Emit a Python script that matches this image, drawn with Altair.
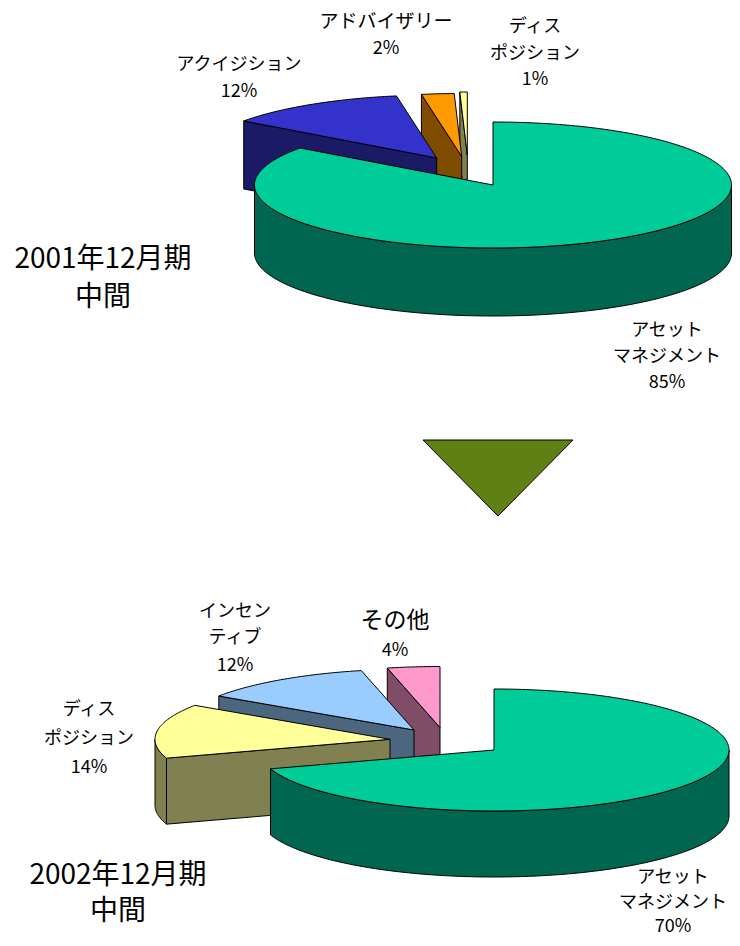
import math
import altair as alt
import pandas as pd

# --- values (percent shares, first slice starts at 12 o'clock, clockwise)
names_2001 = ["アセットマネジメント", "アクイジション", "アドバイザリー", "ディスポジション"]
values_2001 = [85.0, 12.3, 2.2, 0.5]
tops_2001 = ["#00CC99", "#3333CC", "#FF9900", "#FFFF99"]
walls_2001 = ["#006650", "#1A1A66", "#804D00", "#808050"]
centres_2001 = [(493, 185), (436.7, 158), (461.7, 156.5), (467.3, 155)]
shape_2001 = (238.5, 63, 68)

names_2002 = ["アセットマネジメント", "ディスポジション", "インセンティブ", "その他"]
values_2002 = [70.0, 14.4, 12.0, 3.6]
tops_2002 = ["#00CC99", "#FFFF99", "#99CCFF", "#FF99CC"]
walls_2002 = ["#006650", "#808050", "#4D6680", "#804D66"]
centres_2002 = [(494, 750), (390, 739.3), (414, 730), (440, 727.5)]
shape_2002 = (235, 61, 66)

arrow_x = [423, 573, 498, 423]
arrow_y = [440, 440, 516, 440]
arrow_colour = "#5F8014"

FONT = "Noto Sans CJK JP"
label_text = ["アドバイザリー", "2%", "ディス", "ポジション", "1%", "アクイジション", "12%",
              "アセット", "マネジメント", "85%",
              "インセン", "ティブ", "12%", "ディス", "ポジション", "14%",
              "アセット", "マネジメント", "70%", "4%",
              "2001年12月期", "中間", "2002年12月期", "中間", "その他"]
label_x = [386, 386, 535, 535, 535, 239, 239, 667, 667, 667,
           235, 235, 235, 89, 89, 89, 673, 673, 673, 395,
           103, 103, 118, 118, 395]
label_y = [22, 49, 27, 54, 80, 65, 92, 331, 357, 383,
           612, 638, 666, 710, 739, 768, 878, 903, 927, 651,
           260, 298, 876, 912, 621]
label_size = [19, 18, 18, 18, 18, 18, 18, 18, 18, 18,
              18, 18, 18, 18, 18, 18, 18, 18, 18, 18,
              28, 28, 28, 28, 23]

X = alt.X("x:Q", axis=None, scale=alt.Scale(domain=[8, 732], nice=False, zero=False))
Y = alt.Y("y:Q", axis=None, scale=alt.Scale(domain=[8, 934], nice=False, zero=False, reverse=True))


def poly(xs, ys, fill):
    df = pd.DataFrame({"x": xs + xs[:1], "y": ys + ys[:1]})
    df["i"] = range(len(df))
    return alt.Chart(df).mark_line(
        fill=fill, stroke="#000000", strokeWidth=1, interpolate="linear", clip=False
    ).encode(x=X, y=Y, order="i:Q")


def rim(c, shape, a0, a1, dz=0.0):
    rx, ry, _ = shape
    n = max(2, int(abs(a1 - a0)) + 2)
    angles = [a0 + (a1 - a0) * k / (n - 1) for k in range(n)]
    return ([c[0] + rx * math.sin(math.radians(a)) for a in angles],
            [c[1] - ry * math.cos(math.radians(a)) + dz for a in angles])


def pie(values, tops, walls, centres, shape):
    depth = shape[2]
    spans, start = [], 0.0
    for v in values:
        spans.append((start, start + v * 3.6))
        start += v * 3.6
    layers = []
    for i in reversed(range(len(values))):
        a0, a1 = spans[i]
        c = centres[i]
        # outer rim wall: the part of the slice that faces the viewer
        lo, hi = max(a0, 90), min(a1, 270)
        if hi > lo:
            xs, ys = rim(c, shape, lo, hi)
            xb, yb = rim(c, shape, hi, lo, depth)
            layers.append(poly(xs + xb, ys + yb, walls[i]))
        # cut face along the slice's radial edge
        if i > 0:
            sx, sy = rim(c, shape, a0, a0)
            px, py = sx[0], sy[0]
            layers.append(poly([px, c[0], c[0], px],
                               [py, c[1], c[1] + depth, py + depth], walls[i]))
        xs, ys = rim(c, shape, a0, a1)
        layers.append(poly([c[0]] + xs, [c[1]] + ys, tops[i]))
    return layers


layers = []
layers += pie(values_2001, tops_2001, walls_2001, centres_2001, shape_2001)
layers += pie(values_2002, tops_2002, walls_2002, centres_2002, shape_2002)
layers.append(poly(arrow_x[:-1], arrow_y[:-1], arrow_colour))

for t, x, y, s in zip(label_text, label_x, label_y, label_size):
    d = pd.DataFrame({"x": [x], "y": [y], "t": [t]})
    layers.append(alt.Chart(d).mark_text(
        font=FONT, fontSize=s, color="#000000", align="center", baseline="middle"
    ).encode(x=X, y=Y, text="t:N"))

chart = alt.layer(*layers).properties(
    width=724, height=926, padding=0,
    autosize=alt.AutoSizeParams(type="none"),
).configure_view(stroke=None)

chart.save("out.html", embed_options={"renderer": "svg", "actions": False})
